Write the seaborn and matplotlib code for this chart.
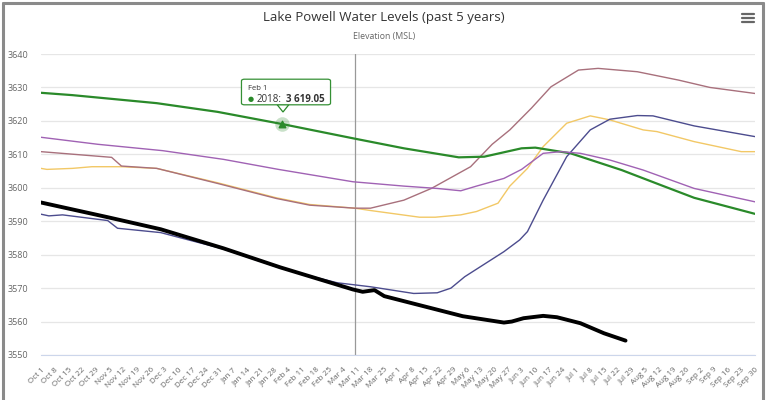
import pandas as pd
import matplotlib.pyplot as plt
import seaborn as sns
from matplotlib.lines import Line2D
from matplotlib.patches import FancyBboxPatch, Polygon

# days since Oct 1 and elevation (ft), one pair of lists per water year
days_2016 = [0, 3, 16, 26, 41, 59, 90, 120, 137, 160, 168, 193, 201, 214, 222, 233, 239, 248, 256, 268, 280, 290, 307, 314, 333, 357, 364]
elev_2016 = [3605.8, 3605.5, 3605.8, 3606.3, 3606.3, 3605.8, 3601.5, 3597.0, 3595.0, 3593.9, 3593.2, 3591.2, 3591.2,
             3591.9, 3592.9, 3595.4, 3600.5, 3605.8, 3612.3, 3619.3, 3621.5, 3620.3, 3617.3, 3616.8, 3613.8, 3610.8, 3610.8]

days_2017 = [0, 36, 41, 59, 90, 120, 137, 160, 168, 185, 199, 219, 230, 239, 250, 260, 274, 284, 304, 325, 341, 364]
elev_2017 = [3610.8, 3609.1, 3606.5, 3605.8, 3601.3, 3596.8, 3594.8, 3593.9, 3593.9, 3596.3, 3599.8, 3606.3, 3613.0,
             3617.3, 3623.8, 3630.2, 3635.2, 3635.7, 3634.7, 3632.2, 3630.0, 3628.2]

days_2018 = [0, 16, 59, 90, 123, 159, 185, 213, 226, 245, 252, 270, 296, 316, 333, 364]
elev_2018 = [3628.4, 3627.7, 3625.3, 3622.7, 3619.05, 3614.8, 3611.8, 3609.1, 3609.3, 3611.8, 3612.0, 3610.3,
             3605.3, 3600.8, 3597.0, 3592.2]

days_2019 = [0, 4, 11, 34, 39, 61, 72, 93, 122, 140, 151, 168, 190, 202, 209, 216, 228, 236, 244, 248, 256, 268,
             280, 290, 304, 312, 333, 364]
elev_2019 = [3592.1, 3591.6, 3591.9, 3590.2, 3587.9, 3586.6, 3584.9, 3581.7, 3576.0, 3573.2, 3571.6, 3570.4, 3568.4,
             3568.6, 3570.0, 3573.4, 3577.9, 3580.9, 3584.4, 3586.9, 3596.3, 3609.3, 3617.3, 3620.5, 3621.6, 3621.5,
             3618.5, 3615.3]

days_2020 = [0, 29, 62, 93, 121, 159, 185, 202, 214, 222, 236, 245, 256, 265, 275, 290, 307, 333, 364]
elev_2020 = [3615.1, 3613.0, 3611.1, 3608.5, 3605.5, 3601.8, 3600.5, 3599.8, 3599.1, 3600.5, 3602.8, 3605.5,
             3610.3, 3610.8, 3610.3, 3608.3, 3605.3, 3599.8, 3595.8]

days_2021 = [0, 34, 61, 93, 122, 159, 164, 170, 175, 193, 215, 236, 240, 246, 256, 263, 275, 287, 298]
elev_2021 = [3595.6, 3591.2, 3587.6, 3581.9, 3576.2, 3569.6, 3568.9, 3569.4, 3567.6, 3564.9, 3561.6, 3559.7,
             3560.0, 3561.0, 3561.7, 3561.3, 3559.5, 3556.5, 3554.3]

tick_labels = pd.date_range("2017-10-01", "2018-09-30", freq="7D")
tip_day, tip_value = 123, 3619.05
now_day = 160

series = [
    ("2016", days_2016, elev_2016, "#f2c866", 1.0),
    ("2017", days_2017, elev_2017, "#a8707c", 1.0),
    ("2018", days_2018, elev_2018, "#2a8a2a", 1.6),
    ("2019", days_2019, elev_2019, "#4c4c8e", 1.0),
    ("2020", days_2020, elev_2020, "#a062b4", 1.0),
    ("2021", days_2021, elev_2021, "#000000", 2.8),
]

sns.set_style("white")
plt.rcParams["font.family"] = ["Open Sans", "DejaVu Sans"]

fig = plt.figure(figsize=(7.68, 4), dpi=100)
ax = fig.add_axes([41 / 768, 1 - 355 / 400, (755 - 41) / 768, (355 - 54) / 400])

for year, d, v, col, lw in series:
    df = pd.DataFrame({"day": d, "elev": v})
    sns.lineplot(data=df, x="day", y="elev", color=col, linewidth=lw, ax=ax, zorder=3)

ax.axvline(now_day, color="#999999", linewidth=0.9, zorder=2)

ax.set_xlim(0, 364)
ax.set_ylim(3550, 3640)
ax.set_yticks(range(3550, 3641, 10))
ax.yaxis.grid(True, color="#e6e6e6", linewidth=0.9)
ax.set_xlabel("")
ax.set_ylabel("")
for s in ["left", "right", "top"]:
    ax.spines[s].set_visible(False)
ax.spines["bottom"].set_color("#ccd6eb")
ax.tick_params(axis="y", length=0, labelsize=6.5, labelcolor="#666666", pad=9)

tick_days = [(t - tick_labels[0]).days for t in tick_labels]
ax.set_xticks(tick_days)
ax.set_xticklabels([f"{t:%b} {t.day}" for t in tick_labels], rotation=45, ha="right",
                   rotation_mode="anchor", fontsize=5.8, color="#666666")
ax.tick_params(axis="x", direction="out", length=5, width=0.8, color="#ccd6eb", pad=3)

# tooltip marker
ax.scatter([tip_day], [tip_value], s=110, color="#2a8a2a", alpha=0.25, zorder=4, linewidths=0)
ax.scatter([tip_day], [tip_value], s=22, color="#2a8a2a", marker="^", zorder=5)

fig.text(0.5, 1 - 17 / 400, "Lake Powell Water Levels (past 5 years)", ha="center", va="center",
         fontsize=9.5, color="#333333")
fig.text(0.5, 1 - 37 / 400, "Elevation (MSL)", ha="center", va="center", fontsize=6.3, color="#666666")

# tooltip box
W, H = 768, 400
box = FancyBboxPatch((243 / W, 1 - 104 / H), 86 / W, 24 / H, boxstyle="round,pad=0.002,rounding_size=0.004",
                     transform=fig.transFigure, facecolor="white", edgecolor="#2a8a2a", linewidth=0.9,
                     alpha=0.95, zorder=10)
fig.patches.append(box)
tri = Polygon([(277 / W, 1 - 104.5 / H), (289 / W, 1 - 104.5 / H), (283 / W, 1 - 112 / H)], closed=True,
              transform=fig.transFigure, facecolor="white", edgecolor="#2a8a2a", linewidth=0.9, zorder=9)
fig.patches.append(tri)
fig.text(248 / W, 1 - 88 / H, "Feb 1", fontsize=5.5, color="#333333", va="center", zorder=11)
fig.text(248 / W, 1 - 99 / H, "●", fontsize=5, color="#2a8a2a", va="center", zorder=11)
fig.text(257 / W, 1 - 99 / H, "2018:", fontsize=7, color="#333333", va="center", zorder=11)
fig.text(286 / W, 1 - 99 / H, "3 619.05", fontsize=7, color="#333333", va="center", fontweight="bold", zorder=11)

# menu icon
for yy in (14, 18, 22):
    fig.lines.append(Line2D([742 / W, 754 / W], [1 - yy / H, 1 - yy / H], transform=fig.transFigure,
                            color="#666666", linewidth=1.6))

# screenshot frame
frame = dict(transform=fig.transFigure, color="#8a8a8a", linewidth=2.2)
fig.lines.append(Line2D([3 / W, 3 / W], [0, 1 - 3 / H], **frame))
fig.lines.append(Line2D([3 / W, 763 / W], [1 - 3 / H, 1 - 3 / H], **frame))
fig.lines.append(Line2D([763 / W, 763 / W], [0, 1 - 3 / H], **frame))

fig.savefig("out.png", dpi=100)
